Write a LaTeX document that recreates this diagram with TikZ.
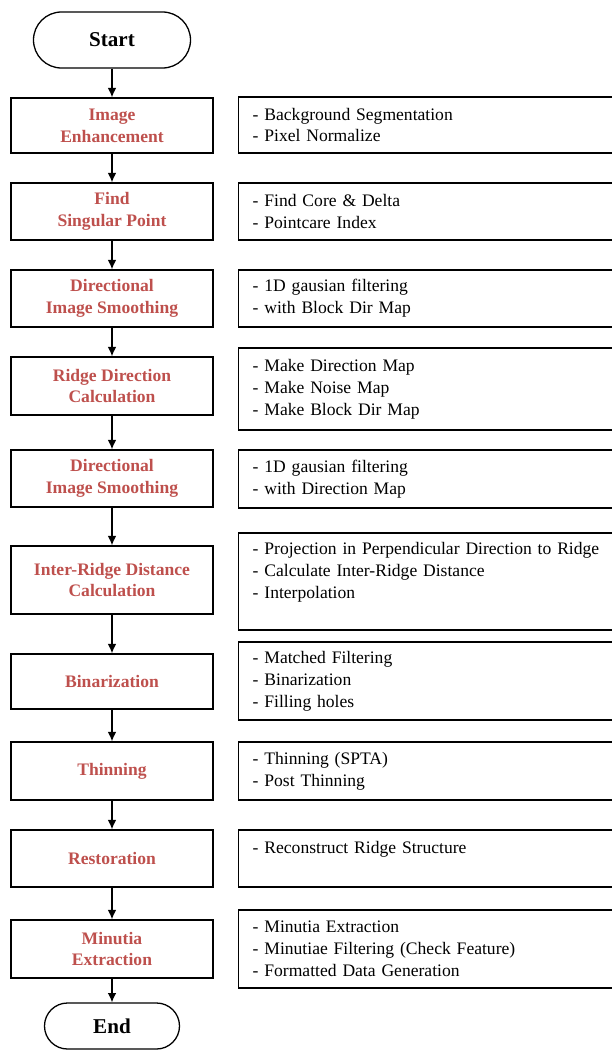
\documentclass[tikz,border=0pt]{standalone}
\usepackage{fontspec}
\setmainfont{Liberation Serif}
\usetikzlibrary{arrows.meta,positioning}
\tikzset{>={Latex[length=2.8mm,width=2.6mm]}}
\definecolor{stepred}{RGB}{190,80,77}

\begin{document}
\begin{tikzpicture}[x=0.03cm,y=-0.03cm,
  every node/.style={font=\fontsize{15}{18.7}\selectfont},
  term/.style={draw,line width=1.1pt,rounded corners=0.84cm,minimum height=1.68cm,font=\fontsize{18}{20}\selectfont\bfseries},
  proc/.style={draw,line width=1.2pt,minimum width=6.06cm,align=center,text=stepred,font=\fontsize{15}{18.7}\selectfont\bfseries},
  note/.style={draw,line width=1.2pt,anchor=west,text width=10.62cm,inner xsep=0.42cm,align=left}]
\useasboundingbox (0,0) rectangle (612,1051);
\node[term,minimum width=4.71cm] (S) at (112,40) {Start};
\node[proc,minimum height=1.65cm] (A) at (112,125.5) {Image\\Enhancement};
\node[proc,minimum height=1.71cm] (B) at (112,211.5) {Find\\Singular Point};
\node[proc,minimum height=1.71cm] (C) at (112,298.5) {Directional\\Image Smoothing};
\node[proc,minimum height=1.74cm] (D) at (112,386) {Ridge Direction\\Calculation};
\node[proc,minimum height=1.71cm] (E) at (112,478.5) {Directional\\Image Smoothing};
\node[proc,minimum height=2.04cm] (F) at (112,580) {Inter-Ridge Distance\\Calculation};
\node[proc,minimum height=1.65cm] (G) at (112,681.5) {Binarization};
\node[proc,minimum height=1.74cm] (H) at (112,771) {Thinning};
\node[proc,minimum height=1.71cm] (I) at (112,858.5) {Restoration};
\node[proc,minimum height=1.74cm] (J) at (112,949) {Minutia\\Extraction};
\node[term,minimum width=4.05cm,minimum height=1.38cm,rounded corners=0.69cm] (Z) at (112,1026) {End};
\node[note,minimum height=1.68cm] (A2) at (238,125) {- Background Segmentation\\- Pixel Normalize};
\node[note,minimum height=1.71cm] (B2) at (238,211.5) {- Find Core \& Delta\\- Pointcare Index};
\node[note,minimum height=1.71cm] (C2) at (238,298.5) {- 1D gausian filtering\\- with Block Dir Map};
\node[note,minimum height=2.46cm] (D2) at (238,389) {- Make Direction Map\\- Make Noise Map\\- Make Block Dir Map};
\node[note,minimum height=1.74cm] (E2) at (238,479) {- 1D gausian filtering\\- with Direction Map};
\node[note,minimum height=2.91cm] (F2) at (238,581.5) {- Projection in Perpendicular Direction to Ridge\\- Calculate Inter-Ridge Distance\\- Interpolation\\ ~};
\node[note,minimum height=2.34cm] (G2) at (238,681) {- Matched Filtering\\- Binarization\\- Filling holes};
\node[note,minimum height=1.74cm] (H2) at (238,771) {- Thinning (SPTA)\\- Post Thinning};
\node[note,minimum height=1.71cm] (I2) at (238,858.5) {- Reconstruct Ridge Structure\\ ~};
\node[note,minimum height=2.34cm] (J2) at (238,949) {- Minutia Extraction\\- Minutiae Filtering (Check Feature)\\- Formatted Data Generation};
\draw[->,line width=1.1pt] (S) -- (A);
\draw[->,line width=1.1pt] (A) -- (B);
\draw[->,line width=1.1pt] (B) -- (C);
\draw[->,line width=1.1pt] (C) -- (D);
\draw[->,line width=1.1pt] (D) -- (E);
\draw[->,line width=1.1pt] (E) -- (F);
\draw[->,line width=1.1pt] (F) -- (G);
\draw[->,line width=1.1pt] (G) -- (H);
\draw[->,line width=1.1pt] (H) -- (I);
\draw[->,line width=1.1pt] (I) -- (J);
\draw[->,line width=1.1pt] (J) -- (Z);
\end{tikzpicture}
\end{document}
